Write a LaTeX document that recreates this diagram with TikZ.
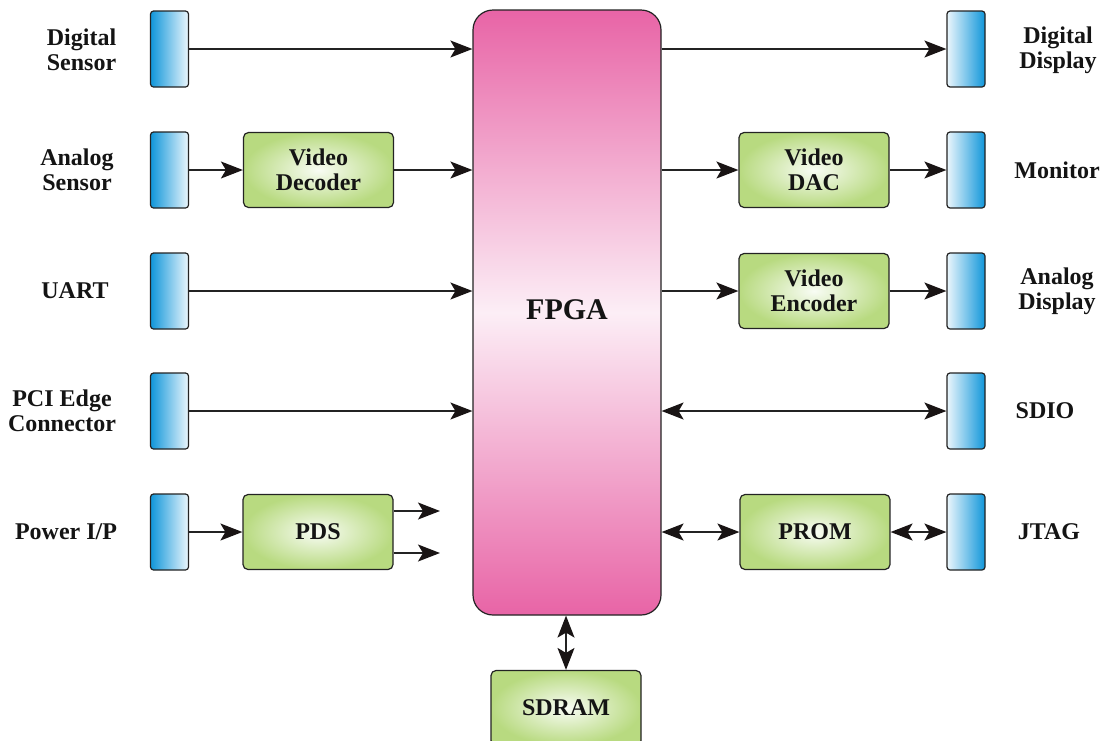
\documentclass[tikz,border=0pt]{standalone}
\usepackage{fontspec}
\setmainfont{Liberation Serif}
\usetikzlibrary{arrows.meta}
\definecolor{linec}{RGB}{35,35,35}
\definecolor{tipc}{RGB}{25,20,20}
\definecolor{blueA}{RGB}{16,150,218}
\definecolor{blueB}{RGB}{235,246,252}
\definecolor{greenOut}{RGB}{184,218,128}
\definecolor{greenIn}{RGB}{248,252,244}
\definecolor{pinkA}{RGB}{232,100,166}
\definecolor{pinkW}{RGB}{252,238,246}
\begin{document}
\begin{tikzpicture}[x=1pt,y=-1pt,
  txt/.style={font=\fontsize{24}{25}\selectfont\bfseries, align=center, inner sep=0pt, text=black!92},
  conn/.style={draw=linec, line width=1.2pt, rounded corners=3pt, minimum width=38pt, minimum height=76pt, inner sep=0pt},
  connL/.style={conn, left color=blueA, right color=blueB},
  connR/.style={conn, left color=blueB, right color=blueA},
  proc/.style={txt, draw=linec, line width=1.2pt, rounded corners=5pt, minimum width=150pt, minimum height=75pt, inner color=greenIn, outer color=greenOut},
  tipA/.tip={Stealth[length=22pt,width=17pt,inset=5pt,color=tipc]},
  arr/.style={draw=linec, line width=1.4pt, -tipA},
  darr/.style={draw=linec, line width=1.4pt, tipA-tipA}
]
\useasboundingbox (0,0) rectangle (1113,740);
\clip (0,0) rectangle (1113,740);

% FPGA
\node[draw=linec, line width=1.2pt, rounded corners=20pt, minimum width=188pt, minimum height=605pt,
  top color=pinkA, bottom color=pinkA, middle color=pinkW, inner sep=0pt] (fpga) at (567,312.5) {};
\node[font=\fontsize{30}{32}\selectfont\bfseries, text=black!92, inner sep=0pt] (fpgat) at (567,310) {FPGA};

% left connectors
\node[connL] (ds) at (169.5,49) {};
\node[connL] (as) at (169.5,170) {};
\node[connL] (uart) at (169.5,291) {};
\node[connL] (pci) at (169.5,411) {};
\node[connL] (pwr) at (169.5,532) {};

% right connectors
\node[connR] (dd) at (966,49) {};
\node[connR] (mon) at (966,170) {};
\node[connR] (ad) at (966,291) {};
\node[connR] (sdio) at (966,411) {};
\node[connR] (jtag) at (966,532) {};

% processing blocks
\node[proc] (vdec) at (318.5,170) {Video\\Decoder};
\node[proc] (pds) at (318,532) {PDS};
\node[proc] (vdac) at (814,170) {Video\\DAC};
\node[proc] (venc) at (814,291) {Video\\Encoder};
\node[proc] (prom) at (815,532) {PROM};
\node[proc] (sdram) at (566,708) {SDRAM};

% labels
\node[txt] (lds) at (81.5,50) {Digital\\Sensor};
\node[txt] (las) at (77,170) {Analog\\Sensor};
\node[txt] (luart) at (75,291) {UART};
\node[txt] (lpci) at (62,411) {PCI Edge\\Connector};
\node[txt] (lpwr) at (66,532) {Power I/P};
\node[txt] (ldd) at (1058,50) {Digital\\Display};
\node[txt] (lmon) at (1057,170) {Monitor};
\node[txt] (lad) at (1057,291) {Analog\\Display};
\node[txt] (lsdio) at (1045,411) {SDIO};
\node[txt] (ljtag) at (1049,532) {JTAG};

% connectors left
\draw[arr] (ds.east) -- (ds.east -| fpga.west);
\draw[arr] (as.east) -- (vdec.west);
\draw[arr] (vdec.east) -- (vdec.east -| fpga.west);
\draw[arr] (uart.east) -- (uart.east -| fpga.west);
\draw[arr] (pci.east) -- (pci.east -| fpga.west);
\draw[arr] (pwr.east) -- (pds.west);
\coordinate (po1) at (440,511);
\coordinate (po2) at (440,553);
\draw[arr] (pds.east |- po1) -- (po1);
\draw[arr] (pds.east |- po2) -- (po2);

% connectors right
\draw[arr] (dd.west -| fpga.east) -- (dd.west);
\draw[arr] (vdac.west -| fpga.east) -- (vdac.west);
\draw[arr] (vdac.east) -- (mon.west);
\draw[arr] (venc.west -| fpga.east) -- (venc.west);
\draw[arr] (venc.east) -- (ad.west);
\draw[darr] (sdio.west -| fpga.east) -- (sdio.west);
\draw[darr] (prom.west -| fpga.east) -- (prom.west);
\draw[darr] (prom.east) -- (jtag.west);
\draw[darr] (sdram.north |- fpga.south) -- (sdram.north);
\end{tikzpicture}
\end{document}
